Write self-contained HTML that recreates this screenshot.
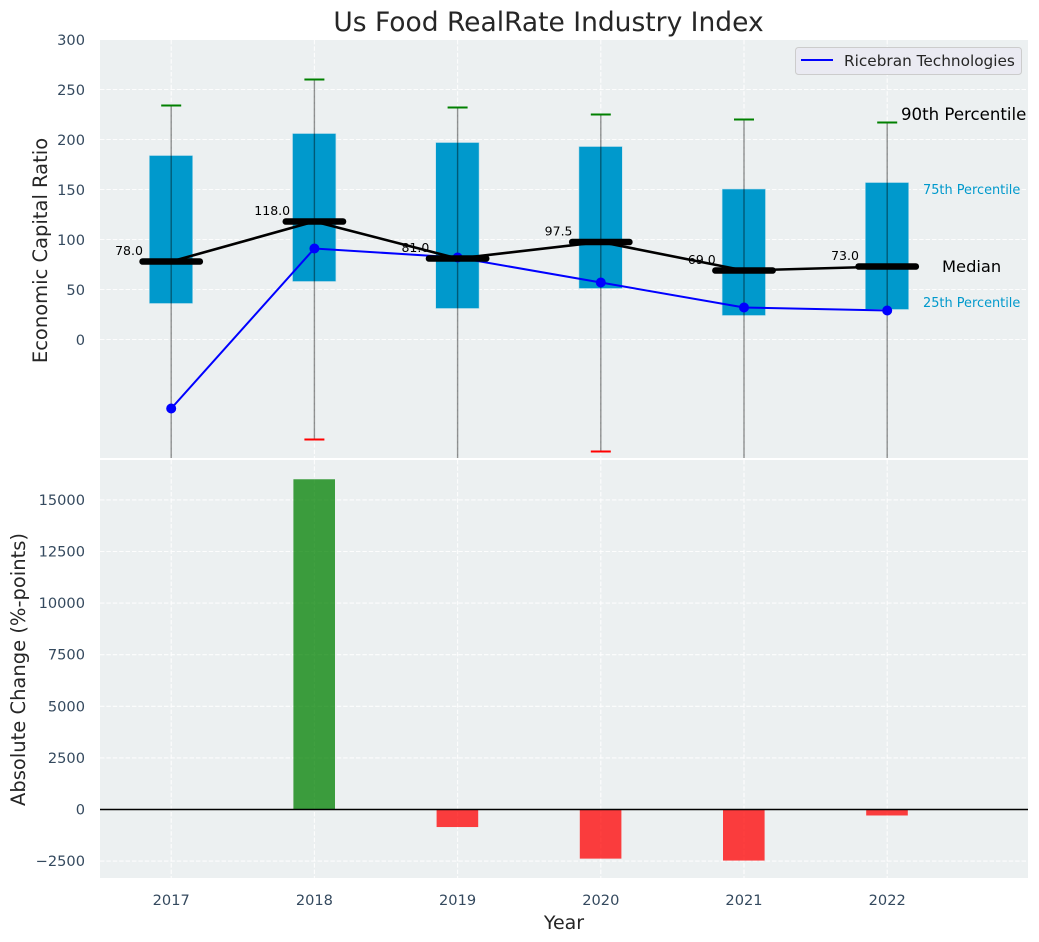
<!DOCTYPE html>
<html lang="en">
<head>
<meta charset="utf-8">
<title>Us Food RealRate Industry Index</title>
<style>
html,body{margin:0;padding:0;background:#fff;}
svg{display:block;font-family:"DejaVu Sans","Liberation Sans",sans-serif;}
</style>
</head>
<body>
<svg id="chart" xmlns="http://www.w3.org/2000/svg" width="1039" height="942" viewBox="0 0 1039 942">
<defs>
<clipPath id="clip-top"><rect x="100" y="40" width="928" height="418"/></clipPath>
<clipPath id="clip-bottom"><rect x="100" y="460" width="928" height="418"/></clipPath>
</defs>
</svg>
<script>
const years = ['2017', '2018', '2019', '2020', '2021', '2022'];
const p90 = [234, 260, 232, 225, 220, 217];
const p75 = [184, 206, 197, 193, 150.5, 157];
const medians = [78, 118, 81, 97.5, 69, 73];
const p25 = [36, 58, 31, 51, 24, 30];
const p10 = [-150, -100, -150, -112, -150, -150];
const company = [-69, 91, 82, 57, 32, 29];
const changes = [0, 16000, -850, -2380, -2475, -290];
const topTicks = [0, 50, 100, 150, 200, 250, 300];
const bottomTicks = [-2500, 0, 2500, 5000, 7500, 10000, 12500, 15000];

const svg = document.getElementById('chart');
const NS = 'http://www.w3.org/2000/svg';
const xPos = i => 171.2 + i * 143.2;
const yTop = v => 339.5 - v;
const yBottom = v => 809.5 - v * 51.6 / 2500;

function make(tag, attrs, parent) {
  const el = document.createElementNS(NS, tag);
  for (const k in attrs) el.setAttribute(k, attrs[k]);
  (parent || svg).appendChild(el);
  return el;
}
function label(text, attrs, parent) {
  const el = make('text', attrs, parent);
  el.textContent = text;
  return el;
}
function fmt(v) {
  return String(v).replace('-', '\u2212');
}

const topPanel = make('rect', {x: 100, y: 40, width: 928, height: 418, fill: '#ecf0f1'});


const bottomPanel = make('rect', {x: 100, y: 460, width: 928, height: 418, fill: '#ecf0f1'});



const gridStyle = {stroke: '#ffffff', 'stroke-width': 1.1, 'stroke-dasharray': '4.4 2', opacity: 0.9};

topTicks.forEach(t => {
  const g = make('line', Object.assign({x1: 100, x2: 1028, y1: yTop(t), y2: yTop(t)}, gridStyle));
  
  
  const l = label(t, {x: 85, y: yTop(t) + 5.5, 'text-anchor': 'end', 'font-size': 14.6, fill: '#34495e'});
  
  
});
bottomTicks.forEach(t => {
  const g = make('line', Object.assign({x1: 100, x2: 1028, y1: yBottom(t), y2: yBottom(t)}, gridStyle));
  
  
  const l = label(fmt(t), {x: 85, y: yBottom(t) + 5, 'text-anchor': 'end', 'font-size': 14.6, fill: '#34495e'});
  
  
});
years.forEach((year, i) => {
  const g1 = make('line', Object.assign({x1: xPos(i), x2: xPos(i), y1: 40, y2: 458}, gridStyle));
  
  
  const g2 = make('line', Object.assign({x1: xPos(i), x2: xPos(i), y1: 460, y2: 878}, gridStyle));
  
  
  const l = label(year, {x: xPos(i), y: 905, 'text-anchor': 'middle', 'font-size': 14.6, fill: '#34495e'});
  
  
});

const topGroup = make('g', {'clip-path': 'url(#clip-top)'});



years.forEach((year, i) => {
  const box = make('rect', {x: xPos(i) - 21.9, y: yTop(p75[i]), width: 43.4, height: yTop(p25[i]) - yTop(p75[i]), fill: '#0099cc', stroke: '#bfe0ec', 'stroke-width': 0.6}, topGroup);
  
  
});
years.forEach((year, i) => {
  const w = make('line', {x1: xPos(i), x2: xPos(i), y1: yTop(p90[i]), y2: yTop(p10[i]), stroke: '#000000', 'stroke-opacity': 0.42, 'stroke-width': 1.4}, topGroup);
  
  
  const hi = make('line', {x1: xPos(i) - 10, x2: xPos(i) + 10, y1: yTop(p90[i]), y2: yTop(p90[i]), stroke: '#008000', 'stroke-width': 2}, topGroup);
  
  
  const lo = make('line', {x1: xPos(i) - 10, x2: xPos(i) + 10, y1: yTop(p10[i]), y2: yTop(p10[i]), stroke: '#ff0000', 'stroke-width': 2}, topGroup);
  
  
});

const companyLine = make('polyline', {points: company.map((v, i) => xPos(i) + ',' + yTop(v)).join(' '), fill: 'none', stroke: '#0000ff', 'stroke-width': 2}, topGroup);


company.forEach((v, i) => {
  const c = make('circle', {cx: xPos(i), cy: yTop(v), r: 5, fill: '#0000ff'}, topGroup);
  
  
});

const medianLine = make('polyline', {points: medians.map((v, i) => xPos(i) + ',' + yTop(v)).join(' '), fill: 'none', stroke: '#000000', 'stroke-width': 2.6}, topGroup);


medians.forEach((v, i) => {
  const m = make('line', {x1: xPos(i) - 28.6, x2: xPos(i) + 28.6, y1: yTop(v), y2: yTop(v), stroke: '#000000', 'stroke-width': 6.6, 'stroke-linecap': 'round'}, topGroup);
  
  
  const t = label(v.toFixed(1), {x: xPos(i) - 42.2, y: yTop(v) - 6.5, 'text-anchor': 'middle', 'font-size': 12.5, fill: '#000000'});
  
  
});

const bottomGroup = make('g', {'clip-path': 'url(#clip-bottom)'});


changes.forEach((v, i) => {
  const top = Math.min(yBottom(v), yBottom(0));
  const h = Math.abs(yBottom(v) - yBottom(0));
  const b = make('rect', {x: xPos(i) - 21, y: top, width: 41.6, height: h, fill: v >= 0 ? '#008000' : '#ff0000', 'fill-opacity': 0.75}, bottomGroup);
  
  
});
const zero = make('line', {x1: 100, x2: 1028, y1: yBottom(0), y2: yBottom(0), stroke: '#000000', 'stroke-width': 1.5});



const last = years.length - 1;
const p90Label = label('90th Percentile', {x: 901, y: yTop(p90[last]) - 2.5, 'font-size': 16.6, fill: '#000000'});


const p75Label = label('75th Percentile', {x: 923, y: yTop(p75[last]) + 11.5, 'font-size': 12.9, fill: '#0099cc'});


const medLabel = label('Median', {x: 942, y: yTop(medians[last]) + 5.5, 'font-size': 16.3, fill: '#000000'});


const p25Label = label('25th Percentile', {x: 923, y: yTop(p25[last]) - 2.5, 'font-size': 12.9, fill: '#0099cc'});



const legend = make('g', {});


const legendBox = make('rect', {x: 795.5, y: 47.5, width: 226, height: 27, rx: 3, fill: '#eaeaf2', stroke: '#cccccc', 'stroke-width': 1}, legend);


const legendLine = make('line', {x1: 801, x2: 833, y1: 60, y2: 60, stroke: '#0000ff', 'stroke-width': 2}, legend);


const legendText = label('Ricebran Technologies', {x: 844, y: 66, 'font-size': 15.3, fill: '#262626'}, legend);



const title = label('Us Food RealRate Industry Index', {x: 548.5, y: 31, 'text-anchor': 'middle', 'font-size': 26.5, fill: '#262626'});


const xTitle = label('Year', {x: 564, y: 929, 'text-anchor': 'middle', 'font-size': 19, fill: '#262626'});


const yTitleTop = label('Economic Capital Ratio', {x: 0, y: 0, 'text-anchor': 'middle', 'font-size': 19.5, fill: '#262626', transform: 'translate(47 250.5) rotate(-90)'});


const yTitleBottom = label('Absolute Change (%-points)', {x: 0, y: 0, 'text-anchor': 'middle', 'font-size': 19.5, fill: '#262626', transform: 'translate(25 669.5) rotate(-90)'});


</script>
</body>
</html>
